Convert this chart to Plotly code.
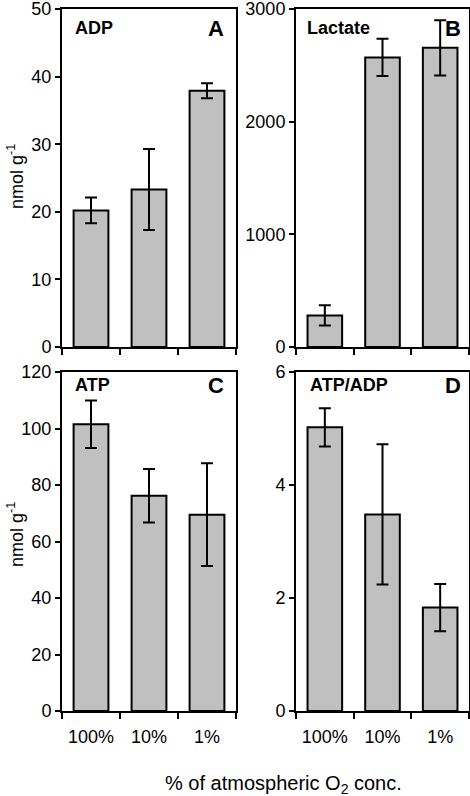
import plotly.graph_objects as go

categories = ["100%", "10%", "1%"]

adp = [20.2, 23.3, 37.9]
adp_err = [1.9, 6.0, 1.1]

lactate = [280, 2570, 2655]
lactate_err = [90, 165, 245]

atp = [101.5, 76.2, 69.5]
atp_err = [8.4, 9.5, 18.2]

ratio = [5.02, 3.48, 1.83]
ratio_err = [0.34, 1.24, 0.42]

panels = [
    ("x", "y", adp, adp_err, "ADP", "A"),
    ("x2", "y2", lactate, lactate_err, "Lactate", "B"),
    ("x3", "y3", atp, atp_err, "ATP", "C"),
    ("x4", "y4", ratio, ratio_err, "ATP/ADP", "D"),
]

W, H = 470, 796
FONT = "Liberation Sans, Arial, sans-serif"

fig = go.Figure()
for xa, ya, vals, errs, name, letter in panels:
    fig.add_trace(go.Bar(
        x=categories, y=vals, xaxis=xa, yaxis=ya,
        width=0.6,
        marker=dict(color="#c0c0c0", line=dict(color="black", width=2)),
        error_y=dict(type="data", array=errs, visible=True,
                     color="black", thickness=2, width=6),
        showlegend=False,
    ))

def px_x(p):
    return p / W

def px_y(p):
    return 1 - p / H

left_dom = [px_x(62), px_x(236)]
right_dom = [px_x(296), px_x(469)]
top_dom = [px_y(347), px_y(9)]
bot_dom = [px_y(711), px_y(372)]

common_x = dict(
    type="category", showline=True, linecolor="black", linewidth=2,
    mirror=True, ticks="outside", tickson="boundaries", ticklen=6,
    tickwidth=2, tickcolor="black", showgrid=False, zeroline=False,
    tickangle=0, automargin=False, ticklabelstandoff=8,
    range=[-0.5, 2.5], tickfont=dict(family=FONT, size=18, color="black"),
)
common_y = dict(
    showline=True, linecolor="black", linewidth=2, mirror=True,
    ticks="outside", ticklen=5, tickwidth=2, tickcolor="black",
    showgrid=False, zeroline=False, automargin=False,
    ticklabeloverflow="allow",
    tickfont=dict(family=FONT, size=18, color="black"),
)

fig.update_layout(
    width=W, height=H,
    margin=dict(l=0, r=0, t=0, b=0, autoexpand=False),
    paper_bgcolor="white", plot_bgcolor="white",
    bargap=0.4,
    xaxis=dict(common_x, domain=left_dom, anchor="y", showticklabels=False),
    yaxis=dict(common_y, domain=top_dom, anchor="x", range=[0, 50], dtick=10),
    xaxis2=dict(common_x, domain=right_dom, anchor="y2", showticklabels=False),
    yaxis2=dict(common_y, domain=top_dom, anchor="x2", range=[0, 3000], dtick=1000),
    xaxis3=dict(common_x, domain=left_dom, anchor="y3"),
    yaxis3=dict(common_y, domain=bot_dom, anchor="x3", range=[0, 120], dtick=20),
    xaxis4=dict(common_x, domain=right_dom, anchor="y4"),
    yaxis4=dict(common_y, domain=bot_dom, anchor="x4", range=[0, 6], dtick=2),
)

annotations = []
label_pos = [
    (73, 28, 226, 28),
    (305, 28, 463, 28),
    (73, 385, 226, 385),
    (308, 385, 463, 385),
]
for (xa, ya, vals, errs, name, letter), (nx, ny, lx, ly) in zip(panels, label_pos):
    annotations.append(dict(
        x=px_x(nx), y=px_y(ny), xref="paper", yref="paper",
        xanchor="left", yanchor="middle", showarrow=False,
        text="<b>%s</b>" % name,
        font=dict(family=FONT, size=18, color="black"),
    ))
    annotations.append(dict(
        x=px_x(lx), y=px_y(ly), xref="paper", yref="paper",
        xanchor="right", yanchor="middle", showarrow=False,
        text="<b>%s</b>" % letter,
        font=dict(family=FONT, size=22, color="black"),
    ))

for cy in (177, 535):
    annotations.append(dict(
        x=px_x(15), y=px_y(cy), xref="paper", yref="paper",
        xanchor="center", yanchor="middle", showarrow=False,
        textangle=-90, text="nmol g<sup>-1</sup>",
        font=dict(family=FONT, size=18, color="black"),
    ))

annotations.append(dict(
    x=px_x(283), y=px_y(784), xref="paper", yref="paper",
    xanchor="center", yanchor="middle", showarrow=False,
    text="% of atmospheric O<sub>2</sub> conc.",
    font=dict(family=FONT, size=20, color="black"),
))

fig.update_layout(annotations=annotations)

fig.write_html(
    "out.html",
    config={"displayModeBar": False},
    post_script="document.body.style.margin='0';document.body.style.overflow='hidden';",
)
